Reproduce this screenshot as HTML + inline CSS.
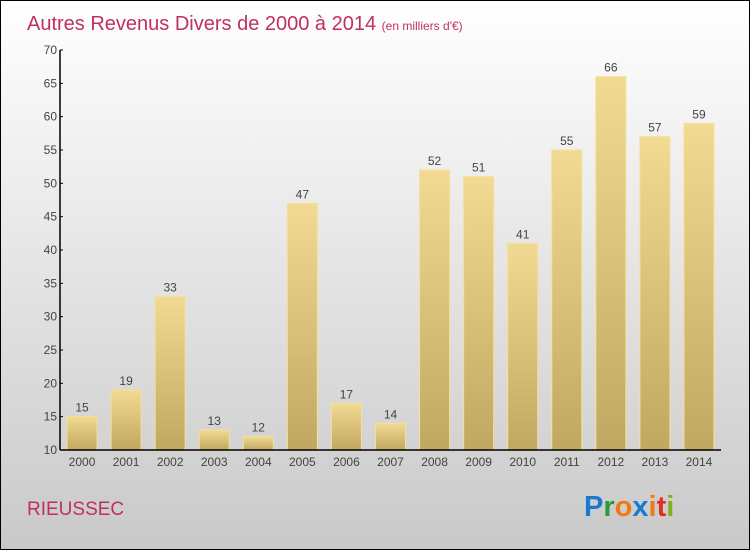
<!DOCTYPE html>
<html><head><meta charset="utf-8"><style>
html,body{margin:0;padding:0}
body{width:750px;height:550px;overflow:hidden;font-family:"Liberation Sans",sans-serif}
#wrap{position:relative;width:748px;height:548px;border:1px solid #000;background:linear-gradient(#fff,#c9c9c9)}
</style></head><body>
<div id="wrap">
<svg id="chart" width="748" height="548">
<defs><linearGradient id="bg" x1="0" y1="0" x2="0" y2="1"><stop offset="0" stop-color="#f3da92"/><stop offset="1" stop-color="#c0a862"/></linearGradient></defs>
<text x="26" y="29" font-size="20" fill="#c0305f">Autres Revenus Divers de 2000 à 2014 <tspan font-size="12">(en milliers d'€)</tspan></text>
<text x="26" y="514" font-size="19" fill="#c0305f">RIEUSSEC</text>
<text x="583" y="515" font-size="29" font-weight="bold"><tspan fill="#1a7ad0">P</tspan><tspan fill="#2a9a3a">r</tspan><tspan fill="#f07a10">o</tspan><tspan fill="#1a7ad0">x</tspan><tspan fill="#f07a10">i</tspan><tspan fill="#e03020">t</tspan><tspan fill="#80b020">i</tspan></text>
<g id="plot"></g>
</svg>
</div>
<script>
const categories=["2000","2001","2002","2003","2004","2005","2006","2007","2008","2009","2010","2011","2012","2013","2014"];
const values=[15,19,33,13,12,47,17,14,52,51,41,55,66,57,59];
const yTicks=[10,15,20,25,30,35,40,45,50,55,60,65,70];
const ns="http://www.w3.org/2000/svg";
const g=document.getElementById('plot');
const X0=59,X1=720,Y0=449,Y1=49,ymin=10,ymax=70;
const band=(X1-X0)/categories.length;
const y=v=>Y0-(v-ymin)/(ymax-ymin)*(Y0-Y1);
const xc=i=>X0+band*(i+0.5);
function el(t,a){const e=document.createElementNS(ns,t);for(const k in a)e.setAttribute(k,a[k]);g.appendChild(e);return e;}
values.forEach((v,i)=>{
 const r=el('rect',{x:xc(i)-15,y:y(v),width:30,height:Y0-y(v),fill:'url(#bg)',stroke:'#f5e09a','stroke-width':1});
 
 
 const t=el('text',{x:xc(i),y:y(v)-5,'text-anchor':'middle','font-size':12,fill:'#444'});
 t.textContent=v;
 
 
 const c=el('text',{x:xc(i),y:Y0+16,'text-anchor':'middle','font-size':12,fill:'#444'});
 c.textContent=categories[i];
 
 
});
yTicks.forEach(v=>{
 el('line',{x1:X0,x2:X0+3,y1:y(v),y2:y(v),stroke:'#000'});
 const t=el('text',{x:X0-3,y:y(v)+4,'text-anchor':'end','font-size':12,fill:'#444'});
 t.textContent=v;
 
 
});
const ya=el('line',{x1:X0,x2:X0,y1:Y1,y2:Y0,stroke:'#000','stroke-width':1.5});


const xa=el('line',{x1:X0,x2:X1,y1:Y0,y2:Y0,stroke:'#000','stroke-width':1.5});


</script>
</body></html>
